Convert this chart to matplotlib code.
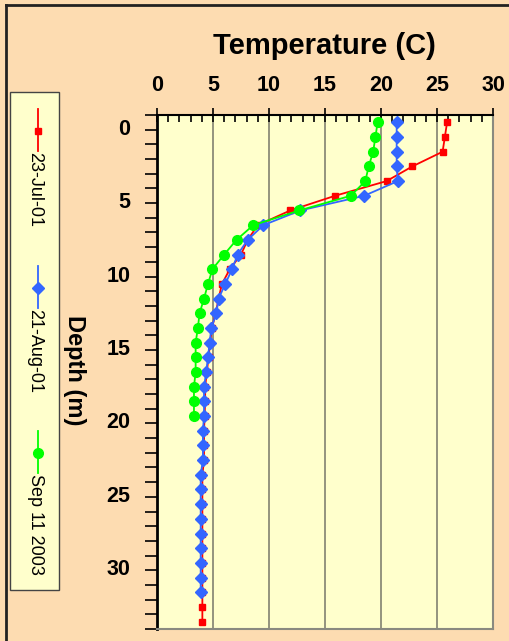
import matplotlib
matplotlib.use('Agg')
import matplotlib.pyplot as plt
import matplotlib.transforms as mtransforms
from matplotlib.lines import Line2D
from matplotlib.patches import Rectangle
from matplotlib.ticker import MultipleLocator

plt.rcParams['font.family'] = ['Liberation Sans', 'DejaVu Sans']

W, H = 509, 641

# глубины (м) и температуры (C)
depth_jul = [-0.5, 0.5, 1.5, 2.5, 3.5, 4.5, 5.5, 6.5, 7.5, 8.5, 9.5, 10.5,
             11.5, 12.5, 13.5, 14.5, 15.5, 16.5, 17.5, 18.5, 19.5, 20.5,
             21.5, 22.5, 23.5, 24.5, 25.5, 26.5, 27.5, 28.5, 29.5, 30.5,
             31.5, 32.5, 33.5]
temp_jul = [25.9, 25.7, 25.5, 22.8, 20.5, 15.9, 11.9, 9.0, 8.1, 7.5, 6.5, 5.8,
            5.5, 5.25, 4.9, 4.75, 4.6, 4.45, 4.3, 4.3, 4.25, 4.2,
            4.2, 4.2, 4.05, 4.05, 4.05, 4.05, 4.05, 4.05, 4.05, 4.05,
            4.05, 4.05, 4.05]

depth_aug = [-0.5, 0.5, 1.5, 2.5, 3.5, 4.5, 5.5, 6.5, 7.5, 8.5, 9.5, 10.5,
             11.5, 12.5, 13.5, 14.5, 15.5, 16.5, 17.5, 18.5, 19.5, 20.5,
             21.5, 22.5, 23.5, 24.5, 25.5, 26.5, 27.5, 28.5, 29.5, 30.5,
             31.5]
temp_aug = [21.4, 21.4, 21.4, 21.4, 21.5, 18.5, 12.8, 9.5, 8.1, 7.2, 6.7, 6.1,
            5.5, 5.3, 4.85, 4.7, 4.55, 4.4, 4.2, 4.2, 4.2, 4.1,
            4.1, 4.1, 3.9, 3.9, 3.9, 3.9, 3.9, 3.9, 3.9, 3.9,
            3.9]

depth_sep = [-0.5, 0.5, 1.5, 2.5, 3.5, 4.5, 5.5, 6.5, 7.5, 8.5, 9.5, 10.5,
             11.5, 12.5, 13.5, 14.5, 15.5, 16.5, 17.5, 18.5, 19.5]
temp_sep = [19.7, 19.5, 19.3, 18.9, 18.6, 17.3, 12.7, 8.6, 7.1, 6.0, 4.95, 4.55,
            4.2, 3.8, 3.65, 3.45, 3.45, 3.45, 3.3, 3.3, 3.3]

labels = ['23-Jul-01', '21-Aug-01', 'Sep 11 2003']
colors = ['#FF0000', '#3366FF', '#00FF00']
markers = ['s', 'D', 'o']
msizes = [5, 6.5, 7]

BG = '#FDDCB1'
PLOT_BG = '#FFFFCC'


def fx(px):
    return px / W


def fy(py):
    return 1 - py / H


fig = plt.figure(figsize=(W / 100, H / 100), dpi=100, facecolor=BG)
ax = fig.add_axes([fx(157), fy(629), fx(493) - fx(157), fy(115) - fy(629)])
ax.set_facecolor(PLOT_BG)

series = [(temp_jul, depth_jul), (temp_aug, depth_aug), (temp_sep, depth_sep)]
for (t, d), c, m, ms in zip(series, colors, markers, msizes):
    ax.plot(t, d, color=c, lw=1.3, marker=m, ms=ms, mec=c, mfc=c, zorder=3)

ax.set_xlim(0, 30)
ax.set_ylim(34, -1)

# ось X сверху
ax.xaxis.tick_top()
ax.xaxis.set_major_locator(MultipleLocator(5))
ax.xaxis.set_minor_locator(MultipleLocator(1))
ax.tick_params(axis='x', which='major', direction='inout', length=10, width=1.2,
               pad=9, labelsize=15.5, colors='black')
ax.tick_params(axis='x', which='minor', direction='in', length=5, width=1.2)
for lab in ax.get_xticklabels():
    lab.set_fontweight('bold')

# ось Y
ax.yaxis.set_minor_locator(MultipleLocator(1))
ax.set_yticks([0, 5, 10, 15, 20, 25, 30])
ax.tick_params(axis='y', which='both', direction='out', length=9, width=1.2,
               pad=10, labelsize=15.5)
off = mtransforms.ScaledTranslation(0, 3 / 100, fig.dpi_scale_trans)
for lab in ax.get_yticklabels():
    lab.set_fontweight('bold')
    lab.set_transform(lab.get_transform() + off)

ax.grid(True, axis='x', which='major', color='#77776a', lw=1.1)
ax.set_axisbelow(True)

ax.spines['left'].set_linewidth(2)
ax.spines['left'].set_color('black')
ax.spines['top'].set_linewidth(1.5)
ax.spines['top'].set_color('black')
ax.spines['right'].set_color('#8a8a80')
ax.spines['right'].set_linewidth(1.5)
ax.spines['bottom'].set_color('#8a8a80')
ax.spines['bottom'].set_linewidth(1.5)

# подписи осей
fig.text(fx(324), fy(46), 'Temperature (C)', ha='center', va='center',
         fontsize=21, fontweight='bold')
fig.text(fx(74), fy(370), 'Depth (m)', ha='center', va='center', rotation=-90,
         fontsize=17, fontweight='bold',
         family=['Liberation Sans Narrow', 'Liberation Sans'])

# легенда
fig.add_artist(Rectangle((fx(10), fy(590)), fx(59) - fx(10), fy(92) - fy(590),
                         transform=fig.transFigure, facecolor=PLOT_BG,
                         edgecolor='#444444', lw=1))
mark_y = [131, 288, 453]
for yy, lab, c, m, ms in zip(mark_y, labels, colors, markers, msizes):
    fig.add_artist(Line2D([fx(38), fx(38)], [fy(yy - 22), fy(yy + 20)],
                          transform=fig.transFigure, color=c, lw=1.3))
    fig.add_artist(Line2D([fx(38)], [fy(yy)], transform=fig.transFigure,
                          color=c, marker=m, ms=ms, mfc=c, mec=c, lw=0))
    fig.text(fx(35), fy(yy + 21), lab, ha='center', va='top', rotation=-90,
             fontsize=13)

# рамка
fig.add_artist(Line2D([fx(6), fx(6)], [0, fy(5)], transform=fig.transFigure,
                      color='#222222', lw=2))
fig.add_artist(Line2D([fx(6), 1], [fy(5), fy(5)], transform=fig.transFigure,
                      color='#222222', lw=2))

fig.savefig('out.png', dpi=100, facecolor=BG)
